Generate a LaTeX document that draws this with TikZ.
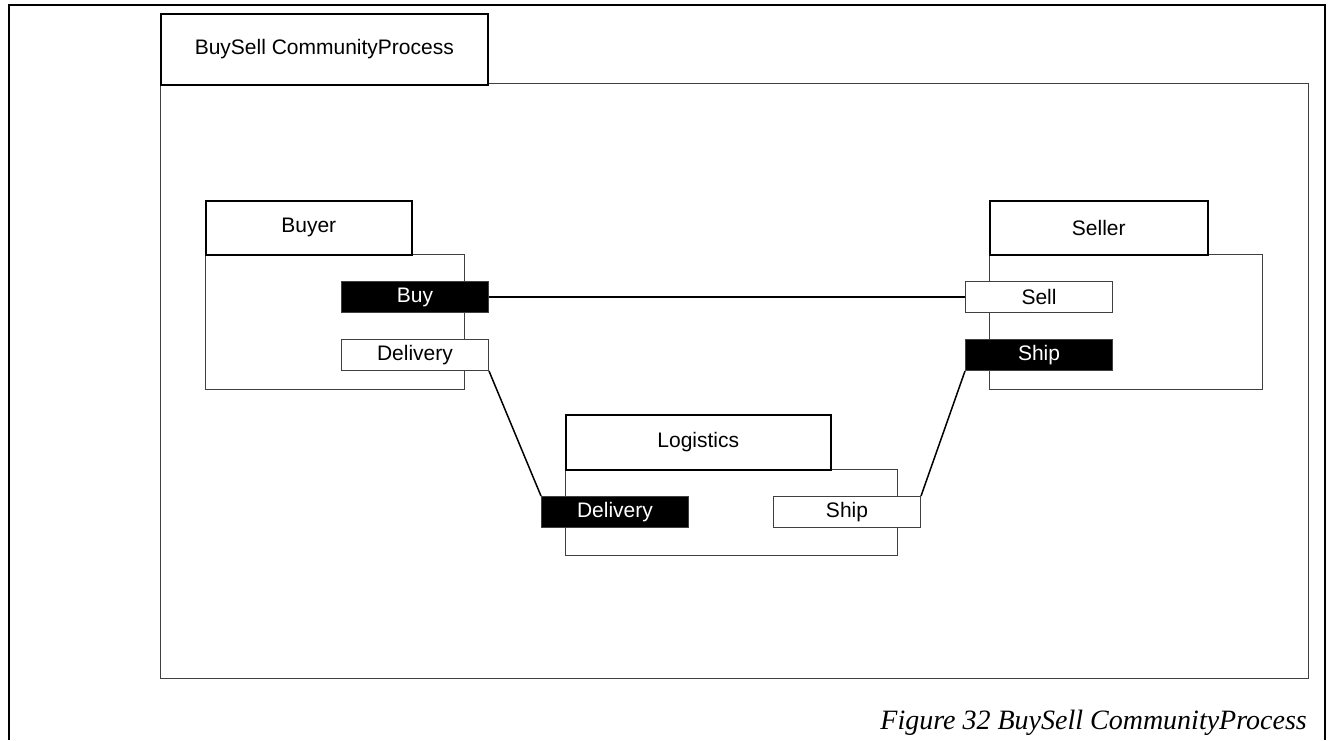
\documentclass[tikz,border=0pt]{standalone}
\usepackage{fontspec}
\setmainfont{Liberation Serif}
\newfontfamily\arialfont{Liberation Sans}
\begin{document}
\begin{tikzpicture}[x=1pt,y=-1pt,
  lbl/.style={font=\arialfont\fontsize{21}{25}\selectfont},
  tabbox/.style={lbl,draw=black,line width=1.6pt,fill=white,anchor=north west,inner sep=0pt},
  bodybox/.style={draw=black!75,line width=1pt,fill=white,anchor=north west,inner sep=0pt},
  porton/.style={lbl,draw=black!75,line width=1pt,fill=black,text=white,anchor=north west,
    minimum width=147pt,minimum height=31pt,inner sep=0pt},
  portoff/.style={lbl,draw=black!75,line width=1pt,fill=white,text=black,anchor=north west,
    minimum width=147pt,minimum height=31pt,inner sep=0pt},
  wire/.style={draw=black,line width=1.5pt}]
\useasboundingbox (0,0) rectangle (1329,740);
\fill[white] (0,0) rectangle (1329,740);
% page frame
\draw[line width=2.5pt] (9,740) -- (9,5) -- (1325,5) -- (1325,740);

% community process
\node[bodybox,minimum width=1148pt,minimum height=595pt] (procbody) at (160,83) {};
\node[tabbox,minimum width=327pt,minimum height=71pt] (proctab) at (160,13) {BuySell CommunityProcess};

% Buyer role
\node[bodybox,minimum width=259pt,minimum height=135pt] (buyerbody) at (205,254) {};
\node[tabbox,minimum width=206pt,minimum height=54pt] (buyertab) at (205,200) {Buyer};
\node[porton] (buy) at (341,281) {Buy};
\node[portoff] (bdelivery) at (341,339) {Delivery};

% Seller role
\node[bodybox,minimum width=273pt,minimum height=135pt] (sellerbody) at (989,254) {};
\node[tabbox,minimum width=218pt,minimum height=54pt] (sellertab) at (989,200) {Seller};
\node[portoff] (sell) at (965,281) {Sell};
\node[porton] (sship) at (965,339) {Ship};

% Logistics role
\node[bodybox,minimum width=332pt,minimum height=86pt] (logbody) at (565,469) {};
\node[tabbox,minimum width=265pt,minimum height=55pt] (logtab) at (565,414) {Logistics};
\node[porton] (ldelivery) at (541,496) {Delivery};
\node[portoff] (lship) at (773,496) {Ship};

% collaborations
\draw[wire] (buy.east) -- (sell.west);
\draw[wire] (bdelivery.south east) -- (ldelivery.north west);
\draw[wire] (lship.north east) -- (sship.south west);

% caption
\node[anchor=base east,inner sep=0pt,font=\itshape\fontsize{28}{32}\selectfont] (caption) at (1307,729) {Figure 32 BuySell CommunityProcess};
\end{tikzpicture}
\end{document}
